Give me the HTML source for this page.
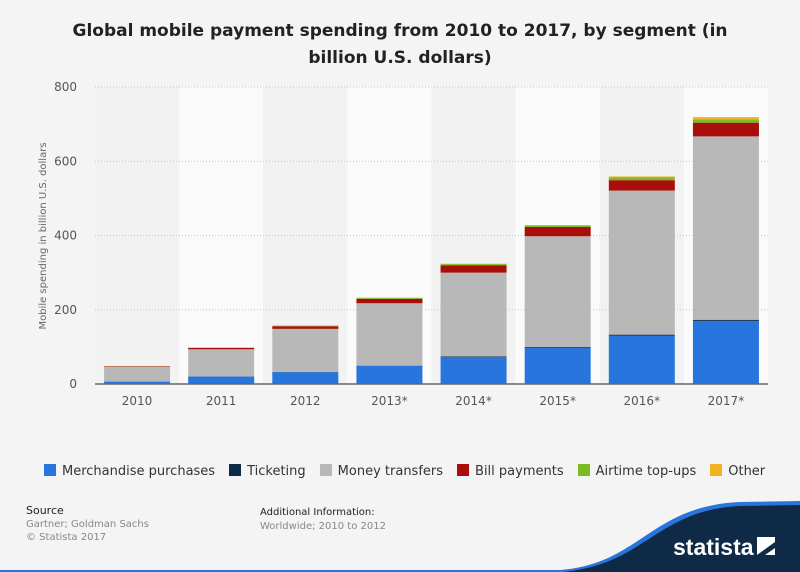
<!DOCTYPE html>
<html><head><meta charset="utf-8"><style>
body{margin:0;width:800px;height:572px;background:#f4f4f4;font-family:"DejaVu Sans","Liberation Sans",sans-serif;overflow:hidden;position:relative}
.t{position:absolute}
</style></head><body>
<div class="t" style="left:0;width:800px;top:18px;text-align:center;font-weight:bold;font-size:17px;line-height:27px;color:#222">Global mobile payment spending from 2010 to 2017, by segment (in<br>billion U.S. dollars)</div>
<svg id="c" width="800" height="572" style="position:absolute;left:0;top:0"></svg>
<script>
const categories=["2010","2011","2012","2013*","2014*","2015*","2016*","2017*"];
const merchandise=[6,20,32,49,72,98,130,170];
const ticketing=[0.5,0.5,0.5,0.5,2,2,3,3];
const money=[40,73,116,168,226,298,388,494];
const bills=[1.5,4,7,12,20,25,28,37];
const airtime=[0.3,0.5,1.5,2,3,4,8,9];
const other=[0.2,0.3,1,1,1,1,2,6];
const yTicks=[0,200,400,600,800];
const seriesNames=["Merchandise purchases","Ticketing","Money transfers","Bill payments","Airtime top-ups","Other"];
const seriesData=[merchandise,ticketing,money,bills,airtime,other];
const colors=["#2876dd","#0f2a47","#b8b8b8","#a90e0b","#7cbb23","#f0b323"];
const NS="http://www.w3.org/2000/svg";
const svg=document.getElementById('c');
const x0=95,x1=768,y0=384,y1=87,ymax=800;
const step=(x1-x0)/categories.length, bw=66;
const Y=v=>y0-(v/ymax)*(y0-y1);
const X=i=>x0+i*step;
function mk(t,a){const e=document.createElementNS(NS,t);for(const k in a)e.setAttribute(k,a[k]);svg.appendChild(e);return e;}
categories.forEach((c,i)=>{
  const r=mk('rect',{x:X(i),y:y1,width:step,height:y0-y1,fill:i%2?'#fafafa':'#f2f2f2'});
  
  
});
yTicks.forEach(v=>{
  if(v>0){const l=mk('line',{x1:x0,x2:x1,y1:Y(v),y2:Y(v),stroke:'#c8c8c8','stroke-dasharray':'1,2'});
  
  }
  const t=mk('text',{x:77,y:Y(v)+4,'text-anchor':'end','font-size':12,fill:'#555'});
  t.textContent=v;
  
  
});
categories.forEach((c,i)=>{
  let acc=0;
  seriesData.forEach((s,k)=>{
    const v=s[i];
    const r=mk('rect',{x:X(i)+(step-bw)/2,y:Y(acc+v),width:bw,height:Y(acc)-Y(acc+v),fill:colors[k]});
    
    
    acc+=v;
  });
  const t=mk('text',{x:X(i)+step/2,y:405,'text-anchor':'middle','font-size':12,fill:'#555'});
  t.textContent=c;
  
  
});
const ax=mk('line',{x1:x0,x2:x1,y1:y0,y2:y0,stroke:'#666','stroke-width':1.5});


const yt=mk('text',{x:0,y:0,'font-size':10,fill:'#666','text-anchor':'middle',transform:'translate(46,236) rotate(-90)'});
yt.textContent='Mobile spending in billion U.S. dollars';


</script>
<div class="t" style="left:44px;top:464px;font-size:13px;color:#333;white-space:nowrap;display:flex;gap:14px">
<span><i style="display:inline-block;width:12px;height:12px;background:#2876dd;vertical-align:-1px;margin-right:6px"></i>Merchandise purchases</span>
<span><i style="display:inline-block;width:12px;height:12px;background:#0f2a47;vertical-align:-1px;margin-right:6px"></i>Ticketing</span>
<span><i style="display:inline-block;width:12px;height:12px;background:#b8b8b8;vertical-align:-1px;margin-right:6px"></i>Money transfers</span>
<span><i style="display:inline-block;width:12px;height:12px;background:#a90e0b;vertical-align:-1px;margin-right:6px"></i>Bill payments</span>
<span><i style="display:inline-block;width:12px;height:12px;background:#7cbb23;vertical-align:-1px;margin-right:6px"></i>Airtime top-ups</span>
<span><i style="display:inline-block;width:12px;height:12px;background:#f0b323;vertical-align:-1px;margin-right:6px"></i>Other</span>
</div>
<div class="t" style="left:26px;top:504px;font-size:10px;line-height:13px;color:#888"><span style="color:#222;font-size:11px">Source</span><br>Gartner; Goldman Sachs<br>© Statista 2017</div>
<div class="t" style="left:260px;top:506px;font-size:10px;line-height:14px;color:#888"><span style="color:#222">Additional Information:</span><br>Worldwide; 2010 to 2012</div>
<svg class="t" style="left:0;top:500px" width="800" height="72">
<path d="M560,72 C640,66 650,8 740,4 L800,3 L800,72 Z" fill="#0f2a47"/>
<path d="M0,70 L560,70 C640,64 650,6 740,2 L800,1 L800,5 L740,6 C655,10 645,66 560,72 L0,72 Z" fill="#2876dd"/>
<text x="673" y="55" font-size="23" font-weight="bold" fill="#fff" font-family="Liberation Sans,sans-serif">statista</text>
<path d="M757,37 L775,37 L775,55 L757,55 Z" fill="#fff"/><path d="M757,55 L775,42 L775,48 L765,55 Z" fill="#0f2a47"/>
</svg>
</body></html>
